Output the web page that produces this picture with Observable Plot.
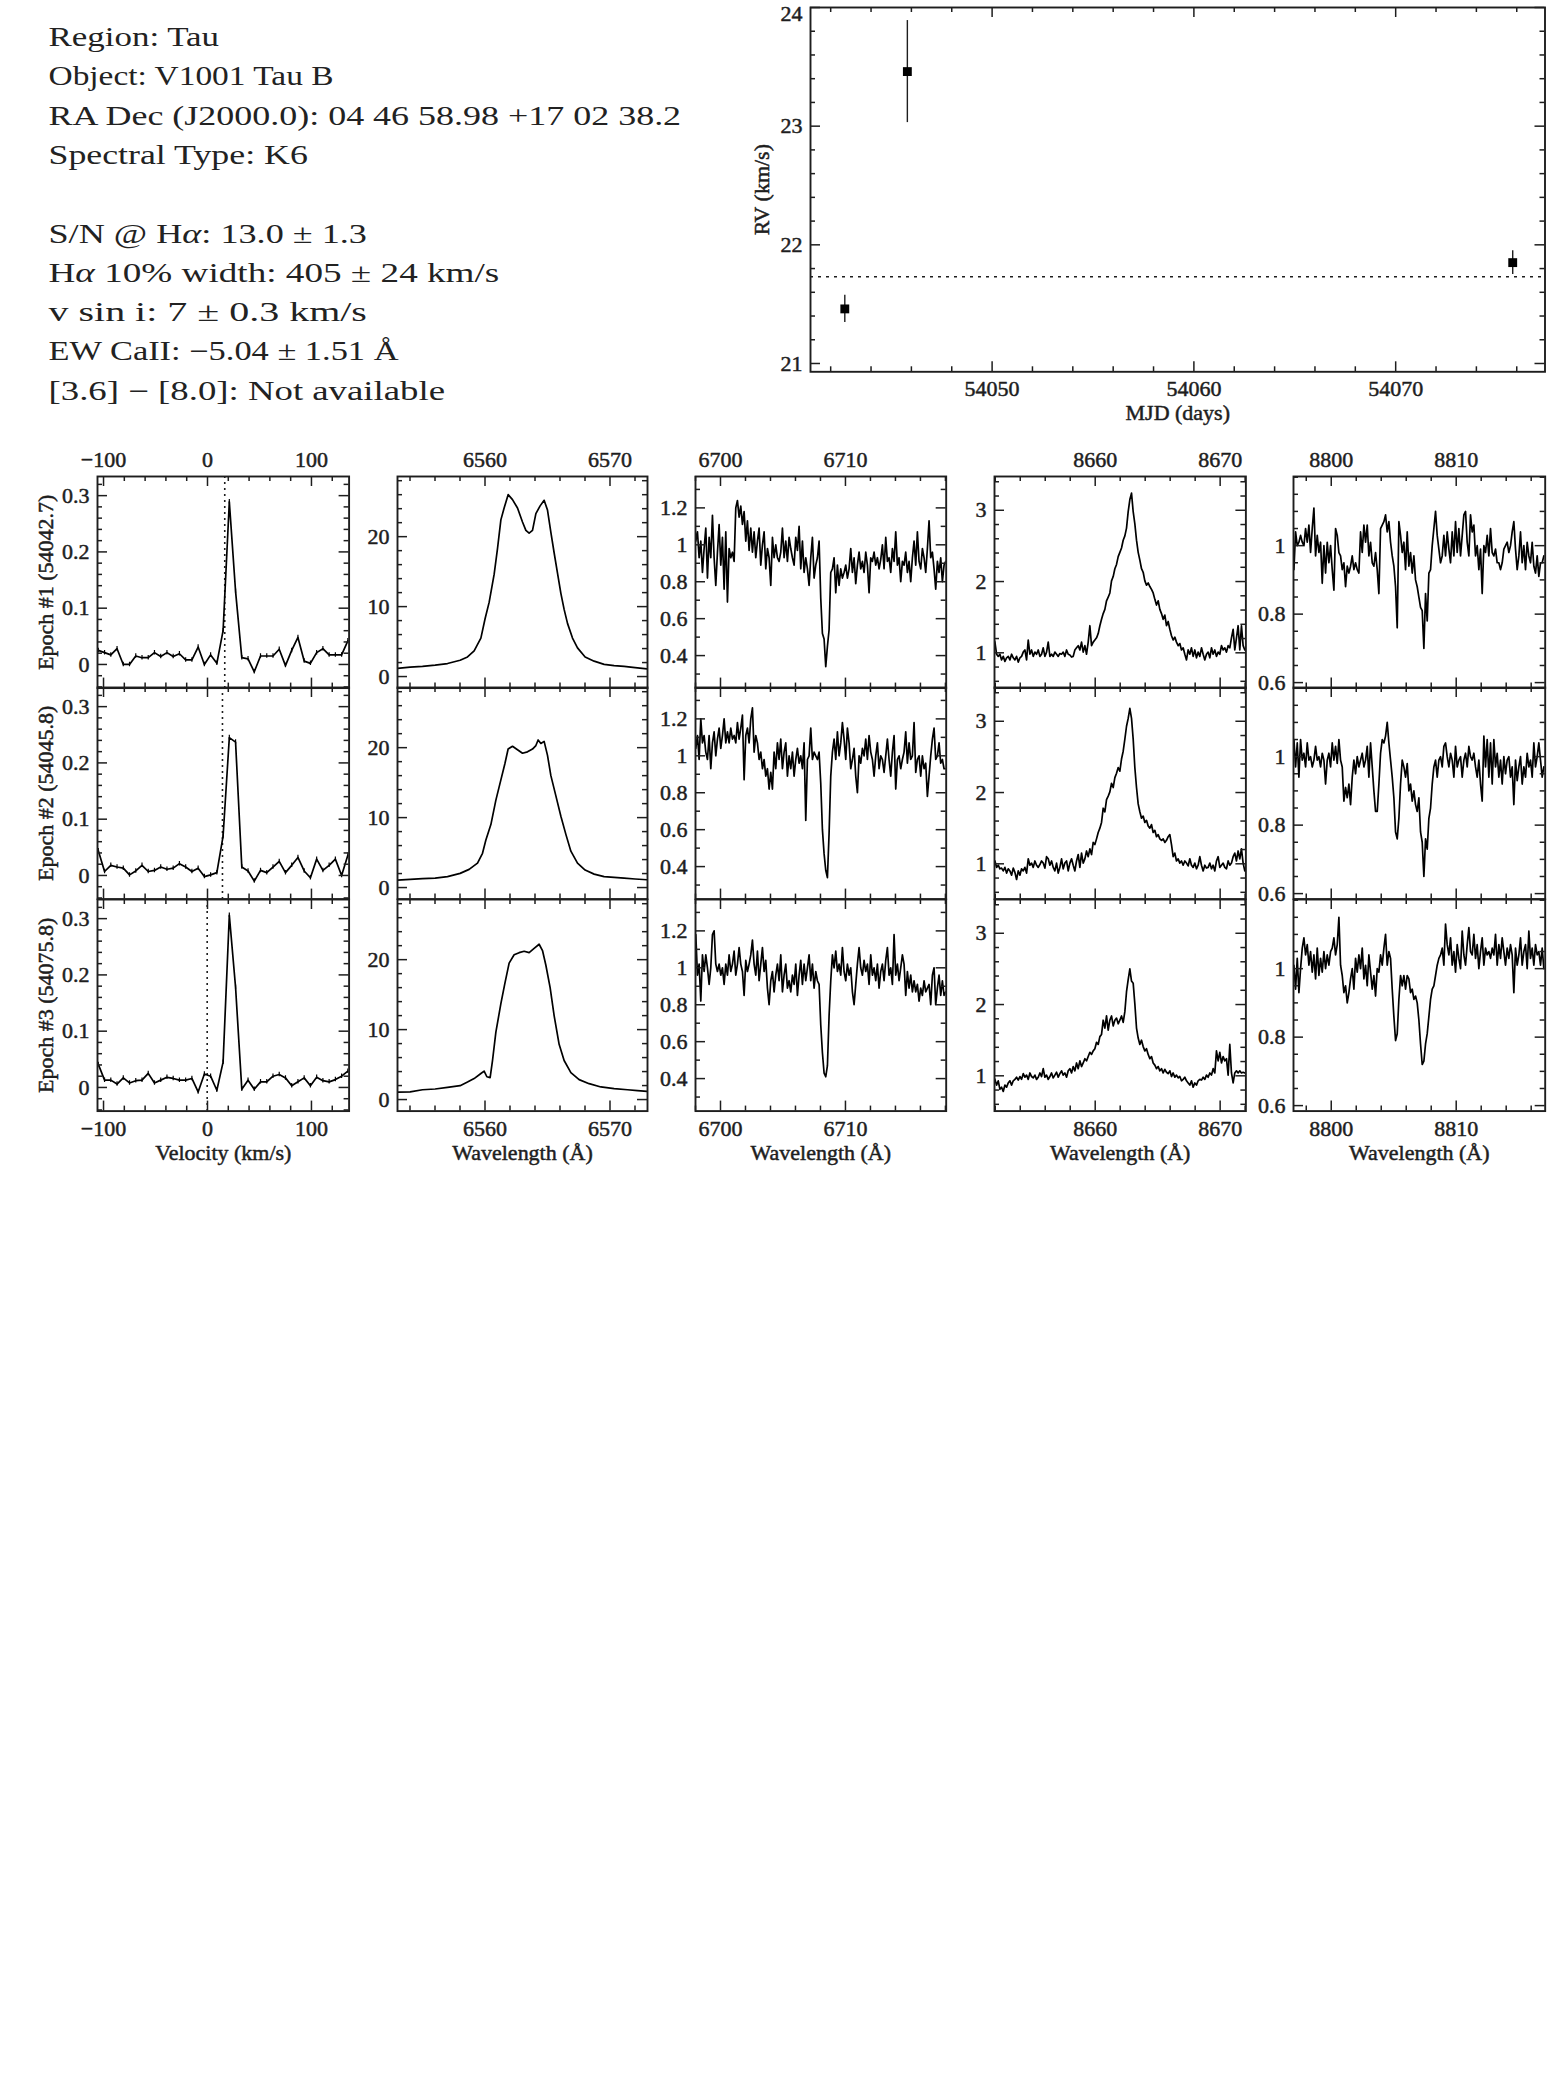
<!DOCTYPE html>
<html><head><meta charset="utf-8">
<script src="https://cdn.jsdelivr.net/npm/d3@7"></script>
<script src="https://cdn.jsdelivr.net/npm/@observablehq/plot@0.6"></script>
<style>
html,body{margin:0;padding:0;background:#fff;}
#page{position:relative;width:1547px;height:2075px;background:#fff;overflow:hidden;}
.pl{position:absolute;}
</style></head><body><div id="page"></div>
<script>
// ---------------- DATA ----------------
const infoLines = [
  [["Region: Tau"]],
  [["Object: V1001 Tau B"]],
  [["RA Dec (J2000.0): 04 46 58.98 +17 02 38.2"]],
  [["Spectral Type: K6"]],
  [["S/N @ H"],["α","i"],[": 13.0 ± 1.3"]],
  [["H"],["α","i"],[" 10% width: 405 ± 24 km/s"]],
  [["v sin i: 7 ± 0.3 km/s"]],
  [["EW CaII: −5.04 ± 1.51 Å"]],
  [["[3.6] − [8.0]: Not available"]]
];

const rvMjd = [54042.7, 54045.8, 54075.8];
const rvValue = [21.46, 23.46, 21.85];
const rvError = [0.115, 0.43, 0.10];
const rvMean = 21.73;

const epochLabels = ["Epoch #1 (54042.7)", "Epoch #2 (54045.8)", "Epoch #3 (54075.8)"];

const velocity = [-105,-99,-93,-87,-81,-75,-69,-63,-57,-51,-45,-39,-33,-27,-21,-15,-9,-3,3,9,15,21,27,33,39,45,51,57,63,69,75,81,87,93,99,105,111,117,123,129,135];
const ccfEpoch1 = [0.025,0.021,0.017,0.028,0.0,0.0,0.015,0.012,0.012,0.021,0.014,0.021,0.014,0.019,0.008,0.008,0.031,0.0,0.017,0.002,0.060,0.289,0.130,0.012,0.010,-0.013,0.015,0.015,0.015,0.027,-0.002,0.025,0.048,0.006,0.002,0.021,0.028,0.017,0.017,0.017,0.042];
const ccfEpoch2 = [0.044,0.007,0.018,0.015,0.013,0.001,0.008,0.018,0.007,0.009,0.015,0.011,0.013,0.021,0.015,0.007,0.013,-0.002,0.001,0.005,0.070,0.245,0.237,0.015,0.008,-0.010,0.009,0.005,0.015,0.025,0.005,0.018,0.032,0.008,-0.004,0.029,0.009,0.018,0.029,0.0,0.036];
const ccfEpoch3 = [0.041,0.013,0.013,0.006,0.017,0.008,0.012,0.013,0.025,0.008,0.013,0.018,0.016,0.013,0.013,0.016,-0.008,0.024,0.020,-0.005,0.045,0.306,0.178,-0.003,0.013,-0.003,0.010,0.010,0.020,0.023,0.017,0.003,0.010,0.017,0.003,0.018,0.012,0.010,0.014,0.020,0.029];
const ccfCenters = [16.6, 14.4, -0.3];
const ccfErr = 0.004;

const haWave1 = [6553.00,6554.01,6555.00,6556.01,6557.00,6558.01,6558.60,6559.13,6559.67,6560.01,6560.33,6560.73,6561.00,6561.27,6561.53,6561.85,6562.20,6562.60,6563.00,6563.27,6563.53,6563.80,6564.07,6564.41,6564.73,6565.00,6565.27,6565.53,6565.80,6566.07,6566.33,6566.60,6567.00,6567.40,6568.01,6568.73,6569.53,6570.33,6571.13,6572.01,6573.13];
const haFlux1 = [1.16,1.34,1.45,1.63,1.86,2.33,2.80,3.66,5.50,8.3,10.6,14.6,18.3,22.4,24.1,26.0,25.3,24.1,22.1,20.9,20.5,20.9,23.3,24.4,25.2,23.8,20.6,17.7,14.8,11.9,9.6,7.6,5.5,4.1,2.8,2.2,1.74,1.57,1.45,1.28,1.05];
const haWave2 = [6553.00,6554.01,6555.00,6556.01,6557.00,6558.01,6558.73,6559.40,6559.80,6560.07,6560.47,6560.87,6561.27,6561.59,6561.85,6562.20,6562.60,6563.00,6563.40,6563.80,6564.07,6564.25,6564.47,6564.73,6565.00,6565.27,6565.67,6566.07,6566.47,6566.87,6567.40,6568.01,6568.73,6569.53,6570.33,6571.13,6572.01,6573.13];
const haFlux2 = [1.05,1.16,1.28,1.34,1.57,2.03,2.6,3.5,4.9,6.8,9.0,12.5,15.4,17.7,19.8,20.2,19.7,19.2,19.4,19.8,20.3,21.1,20.6,20.9,18.9,16.0,13.1,10.2,7.6,5.2,3.5,2.5,1.92,1.57,1.45,1.34,1.22,1.10];
const haWave3 = [6553.00,6554.01,6555.00,6556.01,6557.00,6558.01,6558.60,6559.13,6559.67,6559.93,6560.15,6560.41,6560.60,6560.87,6561.27,6561.59,6561.93,6562.33,6562.73,6563.13,6563.53,6563.93,6564.33,6564.60,6564.87,6565.21,6565.53,6565.93,6566.33,6566.87,6567.53,6568.33,6569.27,6570.33,6571.40,6572.20,6573.13];
const haFlux3 = [1.05,1.10,1.40,1.51,1.74,1.98,2.5,3.0,3.72,4.07,3.26,3.14,5.58,9.65,13.7,16.6,19.5,20.7,21.0,21.2,21.0,21.6,22.2,21.3,19.2,16.0,12.0,7.9,5.58,3.84,2.85,2.27,1.80,1.57,1.40,1.28,1.16];

const liStart = 6697.89, caStart = 8651.84, irStart = 8796.88, specStep = 0.13333;
const liFlux1 = [1.18,1.02,1.07,0.93,1.02,0.85,0.98,1.09,0.82,1.04,0.93,1.16,0.93,0.78,0.96,1.11,0.89,1.04,0.76,1.07,0.69,0.98,0.93,0.96,0.91,1.20,1.24,1.15,1.21,1.11,1.18,1.02,1.13,0.97,1.09,0.96,1.07,0.93,1.02,1.09,0.89,1.00,1.07,0.87,0.98,0.93,0.78,1.04,0.93,1.00,0.93,0.91,0.96,1.09,0.93,1.02,0.91,1.04,0.98,0.93,0.89,1.04,0.97,1.10,0.87,1.02,0.85,0.93,0.87,0.78,0.93,1.04,0.82,0.89,0.93,1.02,0.71,0.52,0.49,0.34,0.45,0.54,0.85,0.87,0.93,0.74,0.89,0.78,0.87,0.82,0.85,0.89,0.82,0.87,0.98,0.85,0.93,0.79,0.89,0.96,0.87,0.91,0.85,0.96,0.89,0.74,0.93,0.91,0.96,0.89,0.93,0.87,0.92,1.00,0.87,1.04,0.91,0.93,0.85,0.98,0.91,1.07,0.89,0.93,0.80,0.91,0.89,0.96,0.85,0.91,0.80,0.93,1.02,0.89,1.07,0.91,0.87,0.98,0.93,0.85,0.98,1.13,0.93,0.96,0.87,0.76,0.91,0.85,0.93,0.80,0.89,0.91];
const liFlux2 = [1.09,1.04,1.11,0.98,1.20,1.07,1.11,1.02,0.98,1.11,0.93,1.07,1.13,1.00,1.09,1.15,1.04,1.11,1.20,1.07,1.13,1.07,1.15,1.09,1.11,1.07,1.18,1.09,1.15,1.22,0.87,1.11,1.15,1.07,1.20,1.26,1.02,1.11,1.07,0.98,1.02,0.93,0.98,0.89,0.93,0.82,0.91,0.82,1.02,0.93,1.07,0.98,1.09,0.93,1.02,1.07,0.89,1.00,0.93,1.02,0.89,0.98,1.04,0.96,1.00,0.93,1.07,0.65,0.98,1.00,1.15,0.98,1.02,1.00,0.98,1.02,0.85,0.60,0.47,0.38,0.34,0.58,0.89,1.02,1.09,0.98,1.13,1.00,1.07,1.18,1.09,0.98,1.15,1.07,0.93,0.98,1.04,0.89,0.80,1.00,0.96,1.04,1.00,1.09,0.98,1.11,1.02,0.98,0.89,1.00,1.07,0.93,1.00,0.98,0.91,1.00,1.09,0.98,0.89,1.02,1.11,0.82,0.98,1.00,0.93,0.98,1.02,1.13,0.96,1.07,0.98,1.00,1.18,0.91,0.98,1.00,0.89,1.00,0.93,0.96,0.78,0.89,1.00,1.09,1.15,0.98,1.00,1.07,0.96,0.98,0.93,0.93];
const liFlux3 = [1.00,1.18,0.96,1.02,0.82,1.07,0.98,1.07,1.00,0.91,1.00,1.18,1.20,1.02,0.98,1.02,0.96,1.00,0.91,1.02,0.96,1.07,0.98,1.02,1.09,0.96,1.02,1.11,1.02,0.98,0.85,1.04,0.98,1.02,1.07,1.15,1.02,0.96,1.09,0.93,1.02,1.11,0.98,1.04,0.89,0.80,0.93,0.98,0.87,0.96,1.02,0.93,1.07,0.87,0.96,1.02,0.89,0.93,0.87,0.96,0.91,1.02,0.85,0.96,1.04,0.91,1.02,0.93,1.00,1.07,0.93,1.02,0.89,0.98,0.93,0.91,0.69,0.54,0.43,0.41,0.47,0.74,0.93,1.07,1.00,1.09,0.98,1.02,0.96,1.11,0.98,0.93,1.02,0.96,1.00,0.87,0.80,0.91,1.02,1.11,1.00,0.96,1.04,0.98,1.02,0.91,1.07,0.96,1.00,0.93,1.02,0.89,0.98,1.02,0.93,1.04,1.11,0.96,1.00,0.91,1.18,0.96,1.02,0.93,1.00,1.07,1.02,0.85,0.98,0.89,0.96,0.87,0.93,0.87,0.91,0.82,0.89,0.85,0.93,0.87,0.89,0.91,0.80,0.96,1.00,0.80,0.89,0.96,0.85,0.93,0.85,0.87];
const caFlux1 = [1.21,1.15,0.98,0.95,0.98,0.90,0.95,0.88,0.93,0.95,0.90,0.98,0.93,0.90,0.95,0.87,0.93,0.95,1.01,1.04,0.90,1.18,0.98,1.04,0.95,1.01,0.98,1.04,0.95,0.98,1.07,0.95,1.01,1.15,0.95,0.98,0.95,1.01,0.98,0.95,0.99,0.98,1.01,0.95,1.04,0.98,0.97,0.94,0.95,1.04,1.07,1.10,1.04,1.15,1.01,1.10,0.98,1.15,1.38,1.10,1.15,1.18,1.21,1.27,1.38,1.47,1.55,1.61,1.73,1.78,1.84,2.01,2.07,2.18,2.24,2.35,2.41,2.47,2.58,2.64,2.75,2.98,3.15,3.24,2.98,2.81,2.58,2.41,2.30,2.18,2.13,2.01,1.95,1.98,1.93,1.89,1.84,1.75,1.67,1.73,1.61,1.55,1.47,1.53,1.38,1.44,1.33,1.24,1.18,1.22,1.15,1.10,1.13,1.04,1.07,0.98,0.90,1.04,0.98,1.07,0.95,1.04,0.93,1.01,0.95,1.07,0.98,0.90,0.98,1.01,0.93,1.07,0.98,1.04,0.95,1.01,0.98,1.10,1.04,1.07,1.01,1.10,1.07,1.21,1.33,1.04,1.21,1.38,1.04,1.38,1.10,1.04];
const caFlux2 = [1.01,1.04,0.95,0.98,0.93,0.94,0.90,0.95,0.87,0.93,0.90,0.84,0.94,0.88,0.78,0.90,0.84,0.93,0.90,0.95,0.87,1.07,0.98,1.01,0.95,1.04,0.98,0.95,0.99,1.04,1.01,0.94,1.10,1.07,0.98,1.04,0.95,0.90,1.01,0.87,0.95,1.07,0.93,1.01,1.04,0.90,1.01,1.07,0.98,0.90,1.04,1.13,0.95,1.15,1.01,1.07,1.18,1.10,1.21,1.13,1.30,1.27,1.35,1.44,1.50,1.58,1.78,1.73,1.90,1.95,2.01,2.13,2.07,2.21,2.27,2.35,2.30,2.47,2.58,2.75,2.93,3.04,3.18,3.04,2.75,2.35,2.07,1.84,1.73,1.64,1.67,1.58,1.61,1.53,1.50,1.55,1.44,1.47,1.38,1.41,1.35,1.33,1.35,1.30,1.33,1.38,1.41,1.27,1.10,1.15,1.04,1.07,1.01,1.04,0.98,1.04,1.01,0.97,1.07,0.98,0.95,1.01,0.93,0.98,1.10,0.98,0.90,0.98,0.94,0.95,1.01,0.93,0.98,0.90,1.04,1.10,0.95,0.98,1.01,0.95,0.93,1.04,0.98,1.01,1.10,1.15,1.04,1.18,1.07,1.21,1.01,0.90];
const caFlux3 = [0.99,0.95,0.87,0.93,0.81,0.84,0.78,0.87,0.84,0.90,0.93,0.87,0.93,0.95,0.98,0.94,0.99,0.95,1.03,0.98,1.01,0.95,1.04,0.99,0.97,1.01,0.95,0.98,1.04,0.99,1.10,0.98,1.01,0.95,0.99,1.04,0.97,1.01,1.05,0.98,1.03,1.07,1.01,1.04,0.98,1.07,1.10,1.04,1.13,1.07,1.18,1.10,1.21,1.13,1.18,1.24,1.21,1.27,1.33,1.30,1.35,1.38,1.47,1.44,1.55,1.58,1.78,1.67,1.84,1.64,1.78,1.84,1.70,1.78,1.81,1.73,1.78,1.84,1.75,1.90,2.18,2.35,2.50,2.33,2.30,2.01,1.67,1.53,1.44,1.50,1.41,1.35,1.38,1.30,1.24,1.27,1.18,1.15,1.10,1.13,1.07,1.10,1.04,1.09,1.05,1.03,1.07,0.99,1.04,0.98,1.01,0.97,0.99,0.93,0.95,0.98,0.93,0.90,0.87,0.93,0.84,0.90,0.87,0.93,0.95,0.94,0.98,0.95,1.01,0.98,1.04,1.01,1.10,1.04,1.35,1.21,1.33,1.18,1.27,1.21,1.24,1.01,1.44,1.04,0.90,1.04,1.07,1.04,1.07,1.04,1.05,1.04];
const irFlux1 = [1.03,0.93,1.04,1.00,1.01,1.03,1.01,1.00,1.05,1.01,1.06,0.98,1.05,1.11,0.97,1.03,0.98,1.01,0.89,1.00,0.92,1.01,0.95,1.00,0.93,0.87,1.05,1.03,0.98,0.97,0.93,0.95,0.88,0.94,0.92,0.94,0.97,0.93,0.95,0.93,0.92,1.04,0.98,1.06,1.01,1.06,0.97,1.01,0.95,0.94,0.98,0.93,0.86,1.05,1.06,1.07,1.09,1.04,1.07,1.01,0.97,0.94,0.88,0.76,1.07,1.03,0.98,1.01,0.93,1.04,0.94,0.98,0.92,0.97,0.90,0.88,0.85,0.82,0.81,0.70,0.86,0.78,0.92,0.93,1.00,1.05,1.10,1.03,0.99,0.95,0.97,1.03,0.97,1.04,0.99,0.95,1.04,0.97,1.07,0.98,1.05,0.97,1.03,1.09,1.10,1.01,0.97,1.09,1.04,1.06,0.97,1.00,0.93,0.99,0.86,1.00,0.98,1.03,0.97,1.05,0.98,0.97,0.99,0.95,0.95,0.93,0.95,0.99,1.00,1.01,0.98,1.00,1.04,1.07,0.99,0.93,0.97,1.04,0.95,1.00,0.93,1.01,0.97,0.95,1.01,0.94,0.92,0.97,0.91,0.95,0.95,0.97];
const irFlux2 = [0.99,1.05,0.97,1.04,0.94,1.05,0.99,1.01,0.97,1.04,0.99,1.00,0.97,0.99,1.03,0.99,1.00,0.97,1.01,0.99,0.92,0.99,1.01,0.97,1.04,0.99,1.03,0.98,1.05,0.99,0.97,0.87,0.91,0.88,0.92,0.86,0.94,0.99,0.95,1.00,0.97,0.99,1.01,0.97,0.99,1.03,0.94,1.04,0.97,0.90,0.84,0.84,0.92,1.01,1.05,1.04,1.06,1.10,1.04,0.99,0.94,0.88,0.78,0.76,0.82,0.92,0.99,0.97,0.94,0.98,0.90,0.92,0.87,0.90,0.86,0.84,0.88,0.78,0.75,0.65,0.76,0.73,0.82,0.85,0.92,0.97,0.99,0.94,0.99,1.00,0.97,1.03,1.04,1.00,0.97,1.01,0.99,0.94,1.03,0.97,0.99,1.00,0.94,0.99,1.01,0.97,1.03,1.00,0.99,1.01,0.97,0.94,0.99,0.92,0.87,1.06,0.97,1.05,0.94,1.04,0.92,1.05,0.97,1.01,0.94,0.99,0.92,1.00,0.95,0.99,1.00,0.94,0.97,0.86,0.99,0.93,0.97,1.00,0.92,0.97,0.94,1.01,0.97,0.99,0.94,1.04,0.97,1.00,1.04,0.99,0.94,0.97];
const irFlux3 = [0.98,1.01,0.94,1.03,0.93,1.00,1.06,1.09,1.04,1.07,1.01,1.05,0.99,1.04,0.97,1.06,0.98,1.03,0.99,1.05,1.00,1.04,1.01,1.05,1.06,1.09,1.04,1.07,1.15,1.01,0.98,0.93,0.95,0.90,0.93,0.97,1.00,0.94,1.03,0.99,1.04,1.00,1.06,0.97,1.01,0.95,1.04,0.99,0.94,0.98,0.92,1.00,0.99,1.04,1.01,1.06,1.10,1.01,1.05,1.03,0.94,0.86,0.79,0.81,0.91,0.98,0.95,0.98,0.94,0.98,0.97,0.93,0.94,0.91,0.92,0.90,0.85,0.78,0.72,0.73,0.78,0.81,0.86,0.91,0.94,0.95,0.98,1.01,1.03,1.04,1.06,1.01,1.13,1.07,1.04,1.09,1.01,1.05,0.99,1.07,1.03,1.00,1.11,1.04,1.01,1.07,1.12,1.05,1.04,1.10,1.03,1.07,1.00,1.05,1.09,1.01,1.06,1.04,1.05,1.03,1.06,1.04,1.10,1.01,1.07,1.03,1.09,1.05,1.01,1.06,1.03,1.07,1.04,0.93,1.06,1.01,1.04,1.09,1.01,1.05,1.07,1.00,1.11,1.03,1.06,1.01,1.07,1.04,1.05,1.01,1.06,1.00];

// tick values (labels)
const rvTicksX = [54050, 54060, 54070], rvTicksY = [21, 22, 23, 24];
const velTicksX = [-100, 0, 100], velTicksY = [0, 0.1, 0.2, 0.3];
const haTicksX = [6560, 6570], haTicksY = [0, 10, 20];
const liTicksX = [6700, 6710], liTicksY = [0.4, 0.6, 0.8, 1, 1.2];
const caTicksX = [8660, 8670], caTicksY = [1, 2, 3];
const irTicksX = [8800, 8810], irTicksY = [0.6, 0.8, 1];

// ---------------- DRAWING ----------------
const page = document.getElementById("page");
const FONT = "'Liberation Serif', 'Times New Roman', serif";
const INK = "#1e1e1e";
const FS = 22;
const fmt = d => (d < 0 ? "\u2212" + String(Math.abs(d)) : String(d));
const textInk = {fill: INK, stroke: INK, strokeWidth: 0.5, fontSize: FS};

// info text block
{
  const centers = [36.7, 76.0, 115.3, 154.6, 233.2, 272.5, 311.8, 351.1, 390.4];
  const widths = [170.6, 285, 632.6, 259.3, 318.4, 450.8, 318.4, 350, 396.5];
  const svg = d3.create("svg").attr("width", 760).attr("height", 430)
    .attr("class", "pl").style("left", "0px").style("top", "0px")
    .style("font-family", FONT).style("font-size", "27px").style("fill", "#222");
  infoLines.forEach((segs, i) => {
    const t = svg.append("text").attr("x", 48.5).attr("y", centers[i] + 9.3)
      .attr("textLength", widths[i]).attr("lengthAdjust", "spacingAndGlyphs");
    segs.forEach(s => {
      const sp = t.append("tspan").text(s[0]);
      if (s[1] === "i") sp.style("font-style", "italic");
    });
  });
  page.appendChild(svg.node());
}

function minors(domain, step, majors) {
  const [a, b] = domain;
  const k0 = Math.ceil(a / step - 1e-9), k1 = Math.floor(b / step + 1e-9);
  return d3.range(k0, k1 + 1).map(k => +(k * step).toFixed(6))
    .filter(v => !majors.some(m => Math.abs(m - v) < step / 10));
}

function panel(o) {
  const ML = 72, MR = 4, MT = 40, MB = 66;
  const w = o.x1 - o.x0, h = o.y1 - o.y0;
  const LMaj = 10, LMin = 5;
  const inD = (v, d) => v >= Math.min(...d) - 1e-9 && v <= Math.max(...d) + 1e-9;
  const xMaj = o.xTicks.filter(v => inD(v, o.xDomain));
  const yMaj = o.yTicks.filter(v => inD(v, o.yDomain));
  const xMin = minors(o.xDomain, o.xStep, xMaj);
  const yMin = minors(o.yDomain, o.yStep, yMaj);
  const tick = {stroke: INK, strokeWidth: 1.5};
  const yTop = Math.max(...o.yDomain);
  const edgeShift = o.topEdgeLabelDy || 0;
  const yLabInner = yMaj.filter(v => !(edgeShift && Math.abs(v - yTop) < 1e-9));
  const yLabEdge = yMaj.filter(v => edgeShift && Math.abs(v - yTop) < 1e-9);
  const marks = [
    ...(o.marks || []),
    Plot.tickX(xMaj, {x: d => d, insetTop: h - LMaj, ...tick}),
    Plot.tickX(xMaj, {x: d => d, insetBottom: h - LMaj, ...tick}),
    Plot.tickX(xMin, {x: d => d, insetTop: h - LMin, ...tick}),
    Plot.tickX(xMin, {x: d => d, insetBottom: h - LMin, ...tick}),
    Plot.tickY(yMaj, {y: d => d, insetRight: w - LMaj, ...tick}),
    Plot.tickY(yMaj, {y: d => d, insetLeft: w - LMaj, ...tick}),
    Plot.tickY(yMin, {y: d => d, insetRight: w - LMin, ...tick}),
    Plot.tickY(yMin, {y: d => d, insetLeft: w - LMin, ...tick}),
    Plot.frame({stroke: INK, strokeWidth: 1.9}),
    Plot.text(yLabInner, {y: d => d, text: fmt, frameAnchor: "left", dx: -8, textAnchor: "end", lineAnchor: "middle", ...textInk}),
    Plot.text(yLabEdge, {y: d => d, text: fmt, frameAnchor: "left", dx: -8, dy: edgeShift, textAnchor: "end", lineAnchor: "middle", ...textInk})
  ];
  if (o.topLabels) marks.push(Plot.text(xMaj, {x: d => d, text: fmt, frameAnchor: "top", dy: -16.5, lineAnchor: "middle", ...textInk}));
  if (o.bottomLabels) marks.push(Plot.text(xMaj, {x: d => d, text: fmt, frameAnchor: "bottom", dy: 17.5, lineAnchor: "middle", ...textInk}));
  if (o.xTitle) marks.push(Plot.text([o.xTitle], {text: d => d, frameAnchor: "bottom", dy: 41.5, lineAnchor: "middle", ...textInk}));
  if (o.yTitle) marks.push(Plot.text([o.yTitle], {text: d => d, frameAnchor: "left", dx: o.yTitleDx, rotate: -90, lineAnchor: "middle", textAnchor: "middle", ...textInk}));
  const chart = Plot.plot({
    width: w + ML + MR, height: h + MT + MB,
    marginLeft: ML, marginRight: MR, marginTop: MT, marginBottom: MB,
    x: {domain: o.xDomain, axis: null},
    y: {domain: o.yDomain, axis: null},
    style: {fontFamily: FONT, fontSize: FS + "px", background: "transparent", overflow: "visible", maxWidth: "none"},
    marks
  });
  chart.classList.add("pl");
  chart.style.position = "absolute";
  chart.style.left = (o.x0 - ML) + "px";
  chart.style.top = (o.y0 - MT) + "px";
  page.appendChild(chart);
}

// RV panel
{
  const rv = rvMjd.map((m, i) => ({m, v: rvValue[i], e: rvError[i]}));
  panel({
    x0: 809.5, x1: 1544, y0: 6.7, y1: 371,
    xDomain: [54041.0, 54077.4], yDomain: [20.93, 24.0],
    xTicks: rvTicksX, xStep: 2, yTicks: rvTicksY, yStep: 0.2, topEdgeLabelDy: 6.5,
    bottomLabels: true, xTitle: "MJD (days)", yTitle: "RV (km/s)", yTitleDx: -48.9,
    marks: [
      Plot.ruleY([rvMean], {y: d => d, stroke: INK, strokeWidth: 1.5, strokeDasharray: "3,5"}),
      Plot.ruleX(rv, {x: "m", y1: d => d.v - d.e, y2: d => d.v + d.e, stroke: INK, strokeWidth: 1.4}),
      Plot.dot(rv, {x: "m", y: "v", symbol: "square", r: 5, fill: "black", stroke: null})
    ]
  });
}

// spectra grid
const colX = [[96.7, 348.3], [396.7, 646.7], [695, 945.7], [994.3, 1245.7], [1293.3, 1545]];
const rowY = [[475.5, 687.1], [687.1, 898.7], [898.7, 1110.3]];
const sampled = (start, arr) => arr.map((f, i) => ({w: start + i * specStep, f}));
const paired = (ws, fs) => ws.map((w, i) => ({w, f: fs[i]}));
const lineStyle = {stroke: "black", strokeWidth: 1.7, clip: true};

const columns = [
  {xDomain: [-105.8, 136.2], yDomain: [-0.042, 0.334], xTicks: velTicksX, xStep: 20, yTicks: velTicksY, yStep: 0.02, xTitle: "Velocity (km/s)",
   rows: [ccfEpoch1, ccfEpoch2, ccfEpoch3].map((c, r) => {
     const data = velocity.map((v, i) => ({w: v, f: c[i]}));
     return [
       Plot.ruleX([ccfCenters[r]], {x: d => d, stroke: INK, strokeWidth: 1.6, strokeDasharray: "2,4"}),
       Plot.line(data, {x: "w", y: "f", ...lineStyle}),
       Plot.ruleX(data, {x: "w", y1: d => d.f - ccfErr, y2: d => d.f + ccfErr, stroke: "black", strokeWidth: 1.2, clip: true})
     ];
   })},
  {xDomain: [6553, 6573], yDomain: [-1.65, 28.6], xTicks: haTicksX, xStep: 2, yTicks: haTicksY, yStep: 2, xTitle: "Wavelength (Å)",
   rows: [paired(haWave1, haFlux1), paired(haWave2, haFlux2), paired(haWave3, haFlux3)].map(d => [Plot.line(d, {x: "w", y: "f", ...lineStyle})])},
  {xDomain: [6698, 6718.06], yDomain: [0.224, 1.37], xTicks: liTicksX, xStep: 2, yTicks: liTicksY, yStep: 0.1, xTitle: "Wavelength (Å)",
   rows: [liFlux1, liFlux2, liFlux3].map(a => [Plot.line(sampled(liStart, a), {x: "w", y: "f", ...lineStyle})])},
  {xDomain: [8651.94, 8672.06], yDomain: [0.505, 3.474], xTicks: caTicksX, xStep: 2, yTicks: caTicksY, yStep: 0.2, xTitle: "Wavelength (Å)",
   rows: [caFlux1, caFlux2, caFlux3].map(a => [Plot.line(sampled(caStart, a), {x: "w", y: "f", ...lineStyle})])},
  {xDomain: [8796.98, 8817.12], yDomain: [0.584, 1.202], xTicks: irTicksX, xStep: 2, yTicks: irTicksY, yStep: 0.05, xTitle: "Wavelength (Å)",
   rows: [irFlux1, irFlux2, irFlux3].map(a => [Plot.line(sampled(irStart, a), {x: "w", y: "f", ...lineStyle})])}
];

columns.forEach((col, c) => {
  col.rows.forEach((marks, r) => {
    panel({
      x0: colX[c][0], x1: colX[c][1], y0: rowY[r][0], y1: rowY[r][1],
      xDomain: col.xDomain, yDomain: col.yDomain,
      xTicks: col.xTicks, xStep: col.xStep, yTicks: col.yTicks, yStep: col.yStep,
      topLabels: r === 0, bottomLabels: r === 2,
      xTitle: r === 2 ? col.xTitle : null,
      yTitle: c === 0 ? epochLabels[r] : null, yTitleDx: -51.7,
      marks
    });
  });
});
</script></body></html>
